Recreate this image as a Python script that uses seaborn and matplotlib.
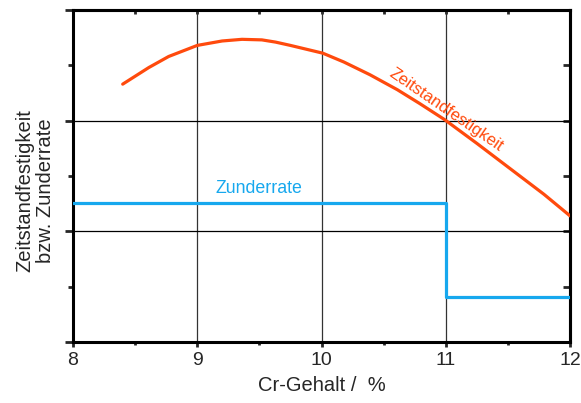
import matplotlib
matplotlib.use("Agg")
import matplotlib.pyplot as plt
from matplotlib.ticker import MultipleLocator, NullFormatter
import seaborn as sns

# Creep strength curve (relative units) over chromium content
cr_strength = [8.40, 8.61, 8.77, 9.00, 9.20, 9.36, 9.52, 9.63, 9.75, 10.01,
               10.18, 10.39, 10.61, 10.79, 10.99, 11.25, 11.52, 11.79, 12.00]
strength = [2.33, 2.48, 2.58, 2.68, 2.72, 2.735, 2.73, 2.71, 2.68, 2.61,
            2.53, 2.415, 2.28, 2.155, 2.01, 1.795, 1.565, 1.335, 1.14]

# Scaling rate, a step that drops at 11 % Cr
cr_scale = [8.0, 11.0, 12.0]
scale_rate = [1.256, 0.406, 0.406]

x_ticks = [8, 9, 10, 11, 12]

RED = "#FF4A0D"
BLUE = "#17A8EE"

sns.set_style("white")
plt.rcParams["font.family"] = ["Liberation Sans", "DejaVu Sans"]

fig = plt.figure(figsize=(5.81, 4.03), dpi=100)
ax = fig.add_axes([73 / 581, 61 / 403, 497 / 581, 332 / 403])

ax.set_xlim(8, 12)
ax.set_ylim(0, 3)

# Reference grid
for xv in [9, 10, 11]:
    ax.axvline(xv, color="#333333", lw=0.9, zorder=1)
for yv in [1, 2]:
    ax.axhline(yv, color="black", lw=0.9, zorder=1)

sns.lineplot(x=cr_strength, y=strength, ax=ax, color=RED, lw=2.3,
             estimator=None, sort=False, zorder=3,
             solid_joinstyle="round", solid_capstyle="round")
sns.lineplot(x=cr_scale, y=scale_rate, ax=ax, color=BLUE, lw=2.3,
             estimator=None, sort=False, drawstyle="steps-post", zorder=3)

ax.text(11.0, 2.10, "Zeitstandfestigkeit", color=RED, fontsize=12,
        rotation=-34.5, rotation_mode="anchor", ha="center", va="center")
ax.text(9.5, 1.39, "Zunderrate", color=BLUE, fontsize=12.8,
        ha="center", va="center")

# Axes frame and ticks
for s in ax.spines.values():
    s.set_linewidth(2.2)
    s.set_color("black")

ax.set_xticks(x_ticks)
ax.set_xticklabels([str(v) for v in x_ticks])
ax.xaxis.set_minor_locator(MultipleLocator(0.5))
ax.yaxis.set_major_locator(MultipleLocator(1))
ax.yaxis.set_minor_locator(MultipleLocator(0.5))
ax.yaxis.set_major_formatter(NullFormatter())

ax.tick_params(axis="y", which="major", direction="out", length=6, width=2,
               left=True, right=False)
ax.tick_params(axis="y", which="minor", direction="out", length=3.5, width=2,
               left=True, right=False)
ax.tick_params(axis="x", which="major", direction="out", length=3.5, width=2,
               bottom=True, top=False, labelsize=14, pad=4)
ax.tick_params(axis="x", which="minor", direction="out", length=2.5, width=2,
               bottom=True, top=False)

# Inward ticks on the right and top edges
ry = ax.secondary_yaxis("right")
ry.yaxis.set_major_locator(MultipleLocator(1))
ry.yaxis.set_minor_locator(MultipleLocator(0.5))
ry.yaxis.set_major_formatter(NullFormatter())
ry.tick_params(which="both", direction="in", length=5, width=2)
ry.spines["right"].set_linewidth(2.2)

tx = ax.secondary_xaxis("top")
tx.set_xticks(x_ticks)
tx.xaxis.set_minor_locator(MultipleLocator(0.5))
tx.xaxis.set_major_formatter(NullFormatter())
tx.tick_params(which="both", direction="in", length=3, width=2)
tx.spines["top"].set_linewidth(2.2)

ax.set_xlabel("Cr-Gehalt /  %", fontsize=14.5, labelpad=5)
ax.set_ylabel("Zeitstandfestigkeit\nbzw. Zunderrate", fontsize=14.5,
              linespacing=1.1)
ax.yaxis.set_label_coords(-0.036, 0.455)

fig.savefig("out.png", dpi=100)
